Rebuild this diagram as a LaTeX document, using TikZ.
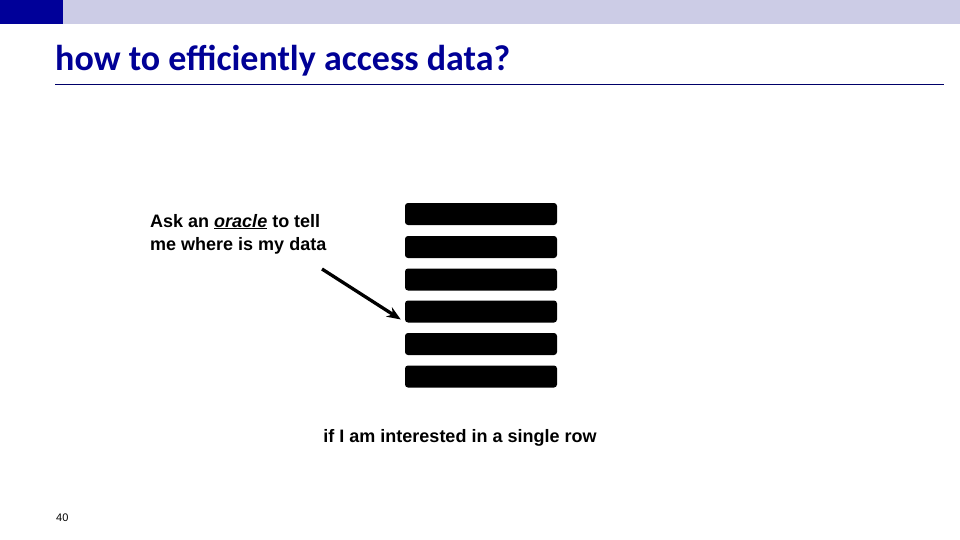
\documentclass[tikz,border=0pt]{standalone}
\usepackage{fontspec}
\setmainfont{Liberation Sans}
\newfontfamily\titlefont{Carlito}
\usepackage{xcolor}
\usetikzlibrary{arrows.meta,positioning}
\definecolor{barblue}{RGB}{204,204,230}
\definecolor{darkblue}{RGB}{0,0,153}
\definecolor{titleblue}{RGB}{0,0,150}
\tikzset{
  rowbox/.style={fill=black, rounded corners=3pt, minimum width=152pt, minimum height=22pt, inner sep=0pt},
  note/.style={font=\bfseries\fontsize{18}{23}\selectfont, inner sep=0pt},
  arrow/.style={-{Stealth[length=14pt,width=11pt]}, line width=3.3pt}
}
\newcommand{\orc}[1]{\underline{\itshape #1}}

\begin{document}
\begin{tikzpicture}[x=1pt,y=-1pt]
  \useasboundingbox (0,0) rectangle (960,540);
  % header bar
  \fill[barblue] (0,0) rectangle (960,24);
  \fill[darkblue] (0,0) rectangle (63,24);
  \node[anchor=base west, inner sep=0pt, text=titleblue, font=\titlefont\bfseries\fontsize{36}{40}\selectfont] (title) at (55,70.5) {how to efficiently access data?};
  \draw[titleblue!70!black, line width=0.8pt] (55,84) -- (944,84);
  % table rows
  \foreach \i/\y in {1/214, 2/247, 3/279.5, 4/311.5, 5/344, 6/376.5}
    \node[rowbox] (row\i) at (481,\y) {};
  % texts
  \node[note, anchor=base west, align=left] (ask) at (150,250) {Ask an \orc{oracle} to tell\\me where is my data};
  \node[note, anchor=base] (single) at (460,442) {if I am interested in a single row};
  \node[anchor=base west, inner sep=0pt, font=\fontsize{11}{13}\selectfont] (page) at (56,521) {40};
  \coordinate (from) at (322,269);
  \draw[arrow] (from) -- ([xshift=-4pt,yshift=-8pt]row4.west);
\end{tikzpicture}
\end{document}
